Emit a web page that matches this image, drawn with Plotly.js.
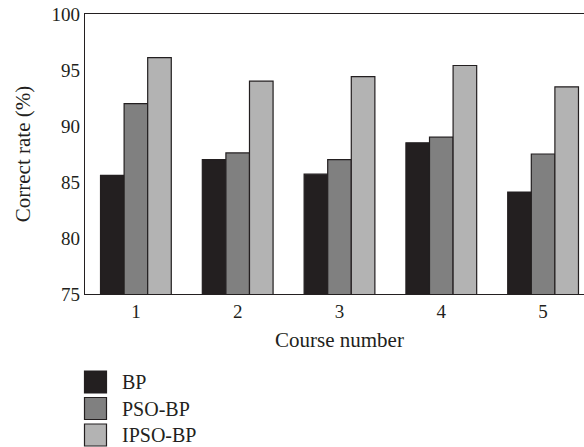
<!DOCTYPE html>
<html>
<head>
<meta charset="utf-8">
<script src="https://cdn.plot.ly/plotly-3.0.1.min.js"></script>
<style>
html,body{margin:0;padding:0;overflow:hidden;background:#fff;width:584px;height:447px;}
#chart{width:600px;height:447px;}
</style>
</head>
<body>
<div id="chart"></div>
<script>
var categories = ["1", "2", "3", "4", "5"];
var seriesNames = ["BP", "PSO-BP", "IPSO-BP"];
var bpValues = [85.6, 87.0, 85.7, 88.5, 84.1];
var psoValues = [92.0, 87.6, 87.0, 89.0, 87.5];
var ipsoValues = [96.1, 94.0, 94.4, 95.4, 93.5];
var yTickValues = [75, 80, 85, 90, 95, 100];
var xTitle = "Course number";
var yTitle = "Correct rate (%)";

var colors = ["#231f20", "#808080", "#b3b3b3"];
var allValues = [bpValues, psoValues, ipsoValues];
var FONT = "Liberation Serif, Times New Roman, serif";
var TEXT = "#231f20";

var W = 600, H = 447;
var M = {l: 85, r: 6, t: 14, b: 153};
var plotW = W - M.l - M.r, plotH = H - M.t - M.b;
function px(x) { return (x - M.l) / plotW; }
function py(y) { return (H - M.b - y) / plotH; }

var traces = seriesNames.map(function (name, i) {
  return {
    type: "bar",
    name: name,
    x: categories,
    y: allValues[i],
    marker: {color: colors[i], line: {color: "#231f20", width: 1.2}},
    showlegend: false,
    hoverinfo: "x+y+name"
  };
});

// custom legend (large squares like the reference)
var shapes = [], annotations = [];
var legTop = 371, legStep = 26.5, sq = 22;
seriesNames.forEach(function (name, i) {
  var y0 = legTop + i * legStep;
  shapes.push({
    type: "rect", xref: "paper", yref: "paper",
    x0: px(84.5), x1: px(84.5 + sq), y0: py(y0 + sq), y1: py(y0),
    fillcolor: colors[i], line: {color: "#231f20", width: 1.2}
  });
  annotations.push({
    xref: "paper", yref: "paper", x: px(120), y: py(y0 + sq / 2),
    xanchor: "left", yanchor: "middle", showarrow: false,
    text: name, font: {family: FONT, size: 20, color: TEXT}
  });
});

var layout = {
  width: W, height: H,
  margin: M,
  paper_bgcolor: "#fff", plot_bgcolor: "#fff",
  font: {family: FONT, size: 19, color: TEXT},
  barmode: "group",
  bargap: 0.305,
  bargroupgap: 0,
  showlegend: false,
  xaxis: {
    type: "category",
    range: [-0.5, 4.5],
    showline: true, linecolor: "#231f20", linewidth: 1.2, mirror: true,
    showgrid: false, zeroline: false, ticks: "",
    tickfont: {family: FONT, size: 19, color: TEXT},
    title: {text: xTitle, font: {family: FONT, size: 21, color: TEXT}, standoff: 11}
  },
  yaxis: {
    range: [75, 100],
    tickvals: yTickValues,
    showline: true, linecolor: "#231f20", linewidth: 1.2, mirror: true,
    showgrid: false, zeroline: false, ticks: "",
    tickfont: {family: FONT, size: 19, color: TEXT},
    title: {text: yTitle, font: {family: FONT, size: 21, color: TEXT}, standoff: 15}
  },
  shapes: shapes,
  annotations: annotations
};

Plotly.newPlot("chart", traces, layout, {displayModeBar: false, staticPlot: true});
</script>
</body>
</html>
